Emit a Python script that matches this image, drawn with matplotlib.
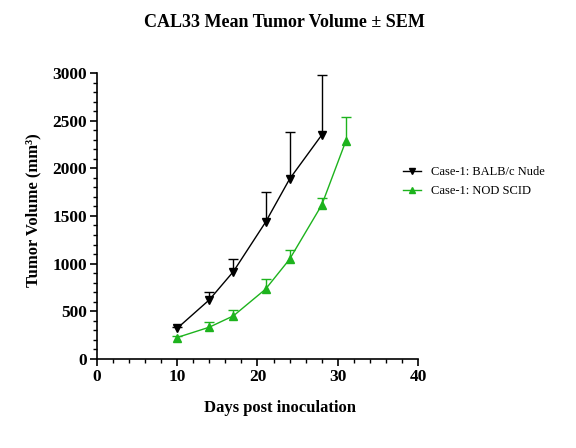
import matplotlib
matplotlib.use("Agg")
import matplotlib.pyplot as plt
from matplotlib.ticker import MultipleLocator
from matplotlib.lines import Line2D
import numpy as np

days_nude = [10, 14, 17, 21, 24, 28]
mean_nude = [320, 619, 916, 1434, 1888, 2350]
sem_nude = [15, 84, 130, 314, 497, 629]

days_scid = [10, 14, 17, 21, 24, 28, 31]
mean_scid = [224, 332, 451, 731, 1046, 1615, 2287]
sem_scid = [12, 56, 59, 105, 94, 70, 252]

label_nude = "Case-1: BALB/c Nude"
label_scid = "Case-1: NOD SCID"
green = "#1db31d"

plt.rcParams['font.family'] = ['Liberation Serif', 'DejaVu Serif']

fig = plt.figure(figsize=(5.76, 4.48), dpi=100)
ax = fig.add_axes([0.168, 0.199, 0.558, 0.638])

def series(x, m, s, color, marker):
    x = np.array(x); m = np.array(m); s = np.array(s)
    ax.vlines(x, m, m + s, color=color, lw=1.0, zorder=2)
    ax.plot(x, m + s, ls='none', marker='_', ms=7, mew=1.0, color=color, zorder=2)
    ax.plot(x, m, color=color, lw=1.0, marker=marker, ms=6, zorder=3)

series(days_nude, mean_nude, sem_nude, 'black', 'v')
series(days_scid, mean_scid, sem_scid, green, '^')

ax.set_xlim(0, 40)
ax.set_ylim(0, 3000)
ax.xaxis.set_major_locator(MultipleLocator(10))
ax.xaxis.set_minor_locator(MultipleLocator(2))
ax.yaxis.set_major_locator(MultipleLocator(500))
ax.yaxis.set_minor_locator(MultipleLocator(100))
ax.spines['top'].set_visible(False)
ax.spines['right'].set_visible(False)
for s in ['left', 'bottom']:
    ax.spines[s].set_linewidth(1.2)
ax.tick_params(which='major', length=5, width=1.2, labelsize=12.5, pad=2)
ax.tick_params(which='minor', length=3, width=1.0)
for lbl in ax.get_xticklabels() + ax.get_yticklabels():
    lbl.set_fontweight('bold')

ax.set_xlabel("Days post inoculation", fontsize=12, fontweight='bold', labelpad=11, x=0.57)
ax.set_ylabel("Tumor Volume (mm³)", fontsize=12, fontweight='bold', labelpad=8, y=0.521)
fig.suptitle("CAL33 Mean Tumor Volume ± SEM", fontsize=13, fontweight='bold', y=0.968, x=0.493)

handles = [Line2D([], [], color='black', marker='v', ms=5, lw=1.0),
           Line2D([], [], color=green, marker='^', ms=5, lw=1.0)]
ax.legend(handles, [label_nude, label_scid], loc='upper left',
          bbox_to_anchor=(0.953, 0.675), frameon=False, fontsize=9,
          handlelength=1.4, handletextpad=0.8, labelspacing=0.6,
          borderaxespad=0, borderpad=0)

fig.savefig("out.png", dpi=100)
